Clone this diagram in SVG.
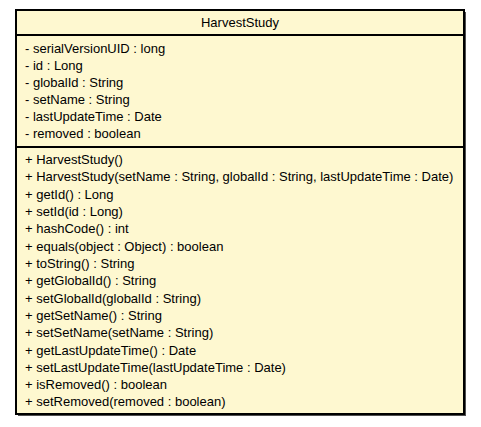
<svg xmlns="http://www.w3.org/2000/svg" width="481" height="427" viewBox="0 0 481 427">
<style>
.t{font-family:"Liberation Sans",Arial,sans-serif;font-size:13px;fill:#000}
.ln{stroke:#000;stroke-width:2}
</style>
<rect width="481" height="427" fill="#fff"/>
<g id="HarvestStudy">
<rect x="18" y="12" width="448" height="404" fill="#505050"/>
<rect x="16" y="10" width="448" height="404" fill="#FEF8D0" stroke="#000" stroke-width="2"/>
<line class="ln" x1="16" y1="35" x2="464" y2="35"/>
<line class="ln" x1="16" y1="147" x2="464" y2="147"/>
<text class="t" x="240" y="27" text-anchor="middle">HarvestStudy</text>
<text class="t" x="25" y="52.5">- serialVersionUID : long</text>
<text class="t" x="25" y="69.5">- id : Long</text>
<text class="t" x="25" y="86.5">- globalId : String</text>
<text class="t" x="25" y="104">- setName : String</text>
<text class="t" x="25" y="121">- lastUpdateTime : Date</text>
<text class="t" x="25" y="138">- removed : boolean</text>
<text class="t" x="25" y="164">+ HarvestStudy()</text>
<text class="t" x="25" y="181">+ HarvestStudy(setName : String, globalId : String, lastUpdateTime : Date)</text>
<text class="t" x="25" y="198.5">+ getId() : Long</text>
<text class="t" x="25" y="215.5">+ setId(id : Long)</text>
<text class="t" x="25" y="233">+ hashCode() : int</text>
<text class="t" x="25" y="250.5">+ equals(object : Object) : boolean</text>
<text class="t" x="25" y="267.5">+ toString() : String</text>
<text class="t" x="25" y="285">+ getGlobalId() : String</text>
<text class="t" x="25" y="302.5">+ setGlobalId(globalId : String)</text>
<text class="t" x="25" y="319.5">+ getSetName() : String</text>
<text class="t" x="25" y="337">+ setSetName(setName : String)</text>
<text class="t" x="25" y="354.5">+ getLastUpdateTime() : Date</text>
<text class="t" x="25" y="371.5">+ setLastUpdateTime(lastUpdateTime : Date)</text>
<text class="t" x="25" y="389">+ isRemoved() : boolean</text>
<text class="t" x="25" y="406">+ setRemoved(removed : boolean)</text>
</g>
<g id="connectors"/>
</svg>
